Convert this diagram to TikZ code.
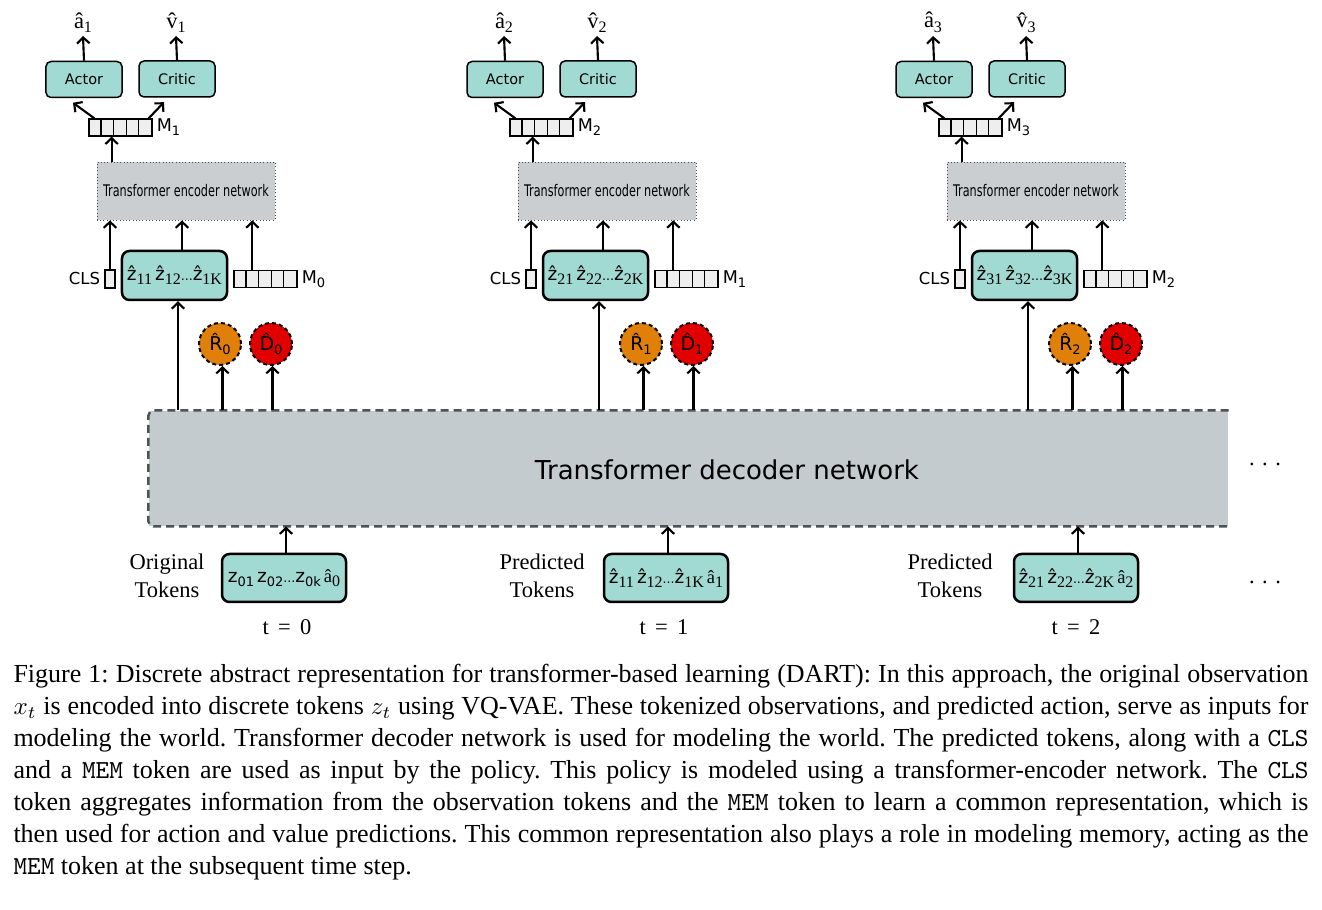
\documentclass[tikz,border=0pt]{standalone}
\usepackage{fontspec}
\usepackage{graphicx}
\setmainfont{Liberation Serif}
\newfontfamily\vera{DejaVu Sans}
\newfontfamily\veracond{DejaVu Sans Condensed}
\usetikzlibrary{arrows.meta,positioning}
\definecolor{Teal}{HTML}{A0DAD2}
\definecolor{EncGray}{HTML}{CACED1}
\definecolor{DecGray}{HTML}{C4CBCE}
\definecolor{DecLine}{HTML}{4B5354}
\definecolor{Cell}{HTML}{EEEEEE}
\definecolor{RwdOr}{HTML}{E08008}
\definecolor{DoneRd}{HTML}{E00000}
% hatted letters, sub indices
\newcommand{\hz}{^^^^1e91}
\newcommand{\crt}[1]{#1^^^^0302}
\newcommand{\zs}[1]{\raisebox{-.22em}{\rmfamily\fontsize{6.4}{6}\selectfont#1}}
\newcommand{\sbs}[1]{\raisebox{-.22em}{\fontsize{5.2}{5}\selectfont#1}}
\newcommand{\ddd}{{\fontsize{5}{5}\selectfont...}}

\begin{document}
\begin{tikzpicture}[x=0.4pt,y=-0.4pt,
  arr/.style={-{Straight Barb[length=2.4pt,width=5pt]},line width=0.85pt},
  mlp/.style={draw,line width=0.6pt,rounded corners=2pt,fill=Teal,minimum width=30.4pt,
    minimum height=14.4pt,inner sep=0,font=\vera\fontsize{5.8}{7}\selectfont},
  encbox/.style={draw=black!70,densely dotted,line width=0.3pt,fill=EncGray,minimum width=71.2pt,
    minimum height=23.2pt,inner sep=0},
  tokbox/.style={draw,line width=1pt,rounded corners=3pt,fill=Teal,minimum width=42pt,
    minimum height=19.6pt,inner sep=0,font=\vera\fontsize{7.4}{8}\selectfont},
  inbox/.style={tokbox,minimum width=49.6pt,minimum height=19.2pt},
  memrow/.style={draw,line width=0.5pt,fill=Cell,minimum width=25.2pt,minimum height=6.8pt,inner sep=0},
  clscell/.style={draw,line width=0.5pt,fill=Cell,minimum width=4pt,minimum height=7.2pt,inner sep=0},
  predc/.style={circle,draw,line width=0.8pt,dash pattern=on 1.6pt off 1.2pt,minimum size=16.8pt,
    inner sep=0,font=\vera\fontsize{7.6}{8}\selectfont},
  sanslab/.style={inner sep=1pt,font=\vera\fontsize{7}{8}\selectfont},
  outlab/.style={inner sep=1pt,anchor=south,font=\fontsize{9}{10}\selectfont},
  seriflab/.style={align=center,font=\fontsize{9}{11.2}\selectfont}]
  \useasboundingbox (0,0) rectangle (1322,910);

  % world model
  \node[fill=DecGray,minimum width=431.6pt,minimum height=46pt,inner sep=0] (dec) at (688.5,468.5) {};
  \draw[DecLine,line width=1pt,dash pattern=on 3.2pt off 2pt,rounded corners=2pt]
    (dec.north east) -- (dec.north west) -- (dec.south west) -- (dec.south east);
  \node[font=\vera\fontsize{10.4}{12}\selectfont] (declab) at (727,470) {Transformer decoder network};
  \node[font=\fontsize{9}{10}\selectfont] (moreup) at (1265,464) {.\hspace{3pt}.\hspace{3pt}.};
  \node[font=\fontsize{9}{10}\selectfont] (moredn) at (1265,582) {.\hspace{3pt}.\hspace{3pt}.};

  \foreach \i/\dx/\bx/\sx/\tx/\lab in {0/0/0/0/0/Original,1/421/382/375/377/Predicted,2/850/792/783/789/Predicted} {
    \pgfmathtruncatemacro\k{\i+1}
    % policy heads
    \node[mlp] (act\i) at ({84+\dx},79.5) {Actor};
    \node[mlp] (crit\i) at ({177+\dx},79) {Critic};
    \node[outlab] (ah\i) at ({83+\dx},36) {\^a\zs{\k}};
    \node[outlab] (vh\i) at ({176+\dx},36) {\crt{v}\zs{\k}};
    \draw[arr] (act\i.north) -- (ah\i.south);
    \draw[arr] (crit\i.north) -- (vh\i.south);
    \node[memrow] (mtop\i) at ({120.5+\dx},127.5) {};
    \foreach \c in {1,...,4}
      \draw[line width=0.5pt] ([xshift=\c*5.04pt]mtop\i.north west) -- ([xshift=\c*5.04pt]mtop\i.south west);
    \node[sanslab,right=0.5pt of mtop\i] (mtl\i) {M\sbs{\k}};
    \draw[arr] ([xshift=2.4pt]mtop\i.north west) -- ([xshift=-4.4pt,yshift=-1.8pt]act\i.south);
    \draw[arr] ([xshift=-1.6pt]mtop\i.north east) -- ([xshift=-5.2pt,yshift=-1.8pt]crit\i.south);
    % encoder
    \node[encbox] (enc\i) at ({186+\dx},191)
      {\veracond\fontsize{6.4}{8}\selectfont\scalebox{0.78}[1]{Transformer encoder network}};
    \draw[arr] ([xshift=6pt]enc\i.north west) -- ([xshift=6pt]enc\i.north west |- mtop\i.south);
    \node[clscell] (cls\i) at ({110+\dx},279) {};
    \node[sanslab,left=0.5pt of cls\i,font=\vera\fontsize{6.6}{8}\selectfont] (clsl\i) {CLS};
    \node[tokbox] (tok\i) at ({174.5+\dx},275.5)
      {\hz\zs{\k1}\,\hz\zs{\k2}\ddd\hz\zs{\k K}};
    \node[memrow] (mbot\i) at ({265.5+\dx},279) {};
    \foreach \c in {1,...,4}
      \draw[line width=0.5pt] ([xshift=\c*5.04pt]mbot\i.north west) -- ([xshift=\c*5.04pt]mbot\i.south west);
    \node[sanslab,right=0.5pt of mbot\i] (mbl\i) {M\sbs{\i}};
    \draw[arr] (cls\i.north) -- (cls\i.north |- enc\i.south);
    \draw[arr] ([xshift=3pt]tok\i.north) -- ([xshift=3pt]tok\i.north |- enc\i.south);
    \draw[arr] ([xshift=7.6pt]mbot\i.north west) -- ([xshift=7.6pt]mbot\i.north west |- enc\i.south);
    % reward and done
    \node[predc,fill=RwdOr] (rw\i) at ({220+\dx},344) {\crt{R}\sbs{\i}};
    \node[predc,fill=DoneRd] (dn\i) at ({271+\dx},344) {\crt{D}\sbs{\i}};
    \draw[arr] ([xshift=1.4pt]tok\i.south |- dec.north) -- ([xshift=1.4pt]tok\i.south);
    \draw[arr] ([xshift=1pt]rw\i.south |- dec.north) -- ([xshift=1pt]rw\i.south);
    \draw[arr] ([xshift=0.6pt]dn\i.south |- dec.north) -- ([xshift=0.6pt]dn\i.south);
    % decoder input
    \ifnum\i=0
      \node[inbox] (in\i) at ({284+\bx},578)
        {z\sbs{01}\,z\sbs{02}\ddd z\sbs{0k}\,{\rmfamily\^a}\zs{0}};
    \else
      \node[inbox] (in\i) at ({284+\bx},578)
        {\hz\zs{\i1}\,\hz\zs{\i2}\ddd\hz\zs{\i K}\,{\rmfamily\^a}\zs{\i}};
    \fi
    \draw[arr] ([xshift=0.8pt]in\i.north) -- ([xshift=0.8pt]in\i.north |- dec.south);
    \node[seriflab] (src\i) at ({167+\sx},576) {\lab\\Tokens};
    \node[seriflab] (ts\i) at ({287+\tx},627) {t\ \,=\ \,\i};
  }

  \node[anchor=north west,text width=518pt,inner sep=0,align=justify,
    font=\fontsize{10.4}{12.8}\selectfont] (caption) at (13,664)
    {\hyphenpenalty=10000\frenchspacing
    Figure 1: Discrete abstract representation for transformer-based learning (DART): In this approach, the original observation\linebreak
    $x_t$ is encoded into discrete tokens $z_t$ using VQ-VAE. These tokenized observations, and predicted action, serve as inputs for\linebreak
    modeling the world. Transformer decoder network is used for modeling the world. The predicted tokens, along with a \texttt{CLS}\linebreak
    and a \texttt{MEM} token are used as input by the policy. This policy is modeled using a transformer-encoder network. The \texttt{CLS}\linebreak
    token aggregates information from the observation tokens and the \texttt{MEM} token to learn a common representation, which is\linebreak
    then used for action and value predictions. This common representation also plays a role in modeling memory, acting as the\linebreak
    \texttt{MEM} token at the subsequent time step.};
\end{tikzpicture}
\end{document}
